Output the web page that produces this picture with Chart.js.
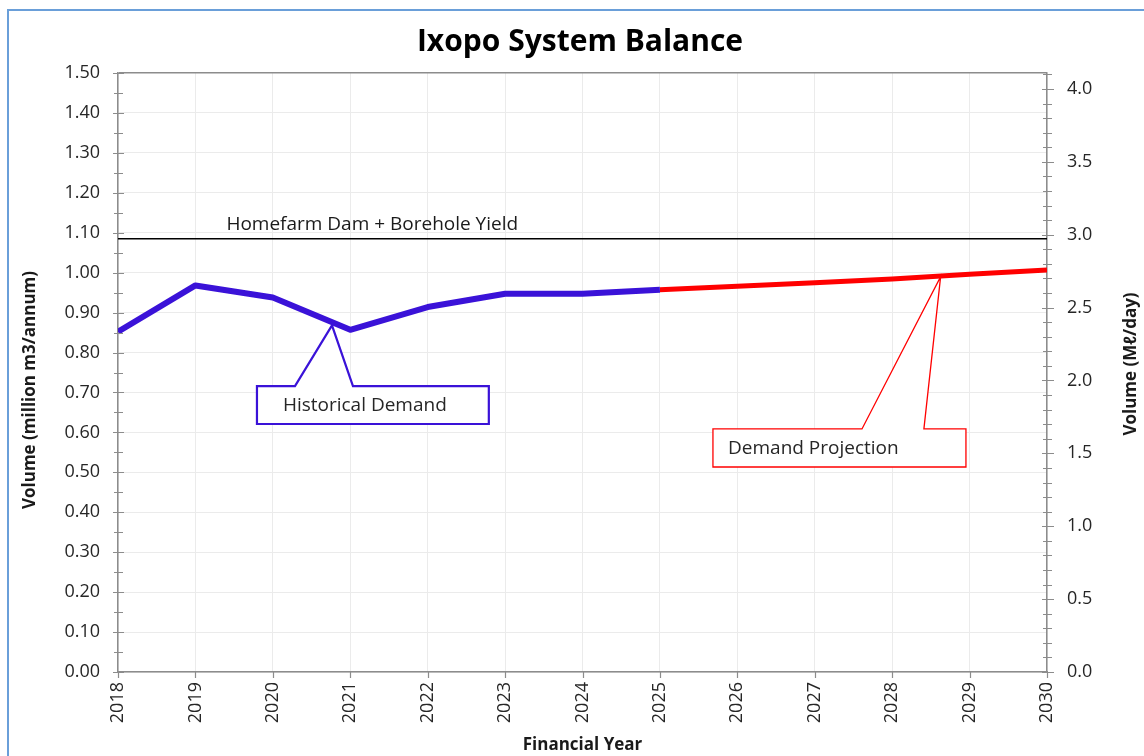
<!DOCTYPE html>
<html>
<head>
<meta charset="utf-8">
<script src="https://cdn.jsdelivr.net/npm/chart.js@4.4.1/dist/chart.umd.min.js"></script>
<style>
html,body{margin:0;padding:0;background:#fff;}
#wrap{position:relative;width:1144px;height:756px;overflow:hidden;}
#c{position:absolute;left:0;top:0;}
#frame{position:absolute;left:7px;top:9px;width:1300px;height:900px;border-left:2px solid #6A9FD9;border-top:2px solid #6A9FD9;pointer-events:none;}
</style>
</head>
<body>
<div id="wrap"><canvas id="c" width="1144" height="756"></canvas><div id="frame"></div></div>
<script>
// ---- data ----
const historicalYears = [2018, 2019, 2020, 2021, 2022, 2023, 2024, 2025];
const historicalDemand = [0.852, 0.968, 0.938, 0.857, 0.914, 0.947, 0.947, 0.957];
const projectionYears = [2025, 2026, 2027, 2028, 2029, 2030];
const projectedDemand = [0.957, 0.966, 0.975, 0.984, 0.996, 1.007];
const yieldYears = [2018, 2030];
const yieldValues = [1.085, 1.085];
const yieldLabel = 'Homefarm Dam + Borehole Yield';
const historicalLabel = 'Historical Demand';
const projectionLabel = 'Demand Projection';
const chartTitle = 'Ixopo System Balance';
const xTitle = 'Financial Year';
const yLeftTitle = 'Volume (million m3/annum)';
const yRightTitle = 'Volume (M\u2113/day)';
const yearMin = 2018, yearMax = 2030;
const leftMax = 1.5;
const rightMax = leftMax * 1000 / 365; // million m3/annum -> Ml/day

const toXY = (xs, ys) => xs.map((x, i) => ({x: x, y: ys[i]}));

const FONT = "'Open Sans', 'DejaVu Sans', sans-serif";
const AXIS = '#8C8C8C';
const GRID = '#EBEBEB';
const BLUE = '#3A12D8';
const RED = '#FF0000';

Chart.defaults.font.family = FONT;
Chart.defaults.color = '#262626';

const decor = {
  id: 'decor',
  afterDatasetsDraw(chart) {
    const {ctx, chartArea: a, scales: {x, y, y2}} = chart;
    ctx.save();
    // yield label
    ctx.font = "19px " + FONT;
    ctx.fillStyle = '#1A1A1A';
    ctx.textBaseline = 'alphabetic';
    ctx.textAlign = 'left';
    ctx.fillText(yieldLabel, x.getPixelForValue(2019.4), y.getPixelForValue(yieldValues[0]) - 9);

    // callouts
    function callout(box, b1, b2, tip, color, lw, text, textX) {
      const x0 = x.getPixelForValue(box[0]), x1 = x.getPixelForValue(box[1]);
      const y0 = y.getPixelForValue(box[2]), y1 = y.getPixelForValue(box[3]);
      const p1 = x.getPixelForValue(b1), p2 = x.getPixelForValue(b2);
      const tx = x.getPixelForValue(tip[0]), ty = y.getPixelForValue(tip[1]);
      ctx.beginPath();
      ctx.moveTo(x0, y0);
      ctx.lineTo(p1, y0);
      ctx.lineTo(tx, ty);
      ctx.lineTo(p2, y0);
      ctx.lineTo(x1, y0);
      ctx.lineTo(x1, y1);
      ctx.lineTo(x0, y1);
      ctx.closePath();
      ctx.fillStyle = '#FFFFFF';
      ctx.fill();
      ctx.strokeStyle = color;
      ctx.lineWidth = lw;
      ctx.lineJoin = 'miter';
      ctx.stroke();
      ctx.fillStyle = '#262626';
      ctx.font = "19px " + FONT;
      ctx.textBaseline = 'middle';
      ctx.textAlign = 'left';
      ctx.fillText(text, x.getPixelForValue(textX), (y0 + y1) / 2 + 1);
    }
    callout([2019.795, 2022.79, 0.716, 0.621], 2020.286, 2021.035, [2020.764, 0.868], BLUE, 2.2, historicalLabel, 2020.13);
    callout([2025.685, 2028.953, 0.6086, 0.5134], 2027.61, 2028.41, [2028.626, 0.99], RED, 1.3, projectionLabel, 2025.88);

    // tick marks crossing axes
    ctx.strokeStyle = AXIS;
    ctx.lineWidth = 1.2;
    ctx.beginPath();
    for (let i = 0; i <= 30; i++) {
      const v = i * 0.05;
      const py = Math.round(y.getPixelForValue(v)) + 0.5;
      const major = i % 2 === 0;
      ctx.moveTo(a.left - (major ? 5 : 4), py);
      ctx.lineTo(a.left + (major ? 6 : 5), py);
    }
    for (let i = 0; i <= Math.floor(rightMax * 10); i++) {
      const v = i * 0.1;
      const py = Math.round(y2.getPixelForValue(v)) + 0.5;
      const major = i % 5 === 0;
      ctx.moveTo(a.right - (major ? 5 : 4), py);
      ctx.lineTo(a.right + (major ? 7 : 5), py);
    }
    for (let yr = yearMin; yr <= yearMax; yr++) {
      const px = Math.round(x.getPixelForValue(yr)) + 0.5;
      ctx.moveTo(px, a.bottom);
      ctx.lineTo(px, a.bottom + 6);
    }
    ctx.stroke();

    // axis titles (rotated, reading upward)
    ctx.fillStyle = '#1A1A1A';
    ctx.font = "bold 17px " + FONT;
    ctx.textAlign = 'center';
    ctx.textBaseline = 'middle';
    ctx.save();
    ctx.translate(30, 390);
    ctx.rotate(-Math.PI / 2);
    ctx.fillText(yLeftTitle, 0, 0);
    ctx.restore();
    ctx.save();
    ctx.translate(1131, 364);
    ctx.rotate(-Math.PI / 2);
    ctx.fillText(yRightTitle, 0, 0);
    ctx.restore();
    ctx.restore();
  }
};

new Chart(document.getElementById('c'), {
  type: 'line',
  data: {
    datasets: [
      {label: historicalLabel, data: toXY(historicalYears, historicalDemand), borderColor: BLUE, borderWidth: 6, pointRadius: 0, borderJoinStyle: 'round', order: 0, yAxisID: 'y'},
      {label: projectionLabel, data: toXY(projectionYears, projectedDemand), borderColor: RED, borderWidth: 5, pointRadius: 0, borderJoinStyle: 'round', order: 1, yAxisID: 'y'},
      {label: yieldLabel, data: toXY(yieldYears, yieldValues), borderColor: '#000000', borderWidth: 1.5, pointRadius: 0, order: 2, yAxisID: 'y'}
    ]
  },
  options: {
    responsive: false,
    animation: false,
    devicePixelRatio: 1,
    layout: {padding: {left: 16, right: 0, top: 0, bottom: 0}},
    plugins: {
      legend: {display: false},
      tooltip: {enabled: false},
      title: {display: true, text: chartTitle, color: '#000000', font: {size: 30, weight: 'bold', family: FONT}, padding: {top: 24, bottom: 13}}
    },
    scales: {
      x: {
        type: 'linear', position: 'bottom', min: yearMin, max: yearMax,
        ticks: {stepSize: 1, autoSkip: false, maxRotation: 90, minRotation: 90, padding: 10, color: '#262626', font: {size: 18}, callback: v => String(v)},
        grid: {color: GRID, lineWidth: 1, drawTicks: false},
        border: {color: AXIS, width: 1.5},
        title: {display: true, text: xTitle, color: '#1A1A1A', font: {size: 17, weight: 'bold'}, padding: {top: 0, bottom: 1}},
        afterFit: s => { s.height = 84; }
      },
      y: {
        type: 'linear', position: 'left', min: 0, max: leftMax,
        ticks: {stepSize: 0.1, padding: 18, color: '#262626', font: {size: 18}, callback: v => v.toFixed(2)},
        grid: {color: c => (c.tick && Math.abs(c.tick.value - leftMax) < 1e-6) ? AXIS : GRID, lineWidth: c => (c.tick && Math.abs(c.tick.value - leftMax) < 1e-6) ? 1.5 : 1, drawTicks: false},
        border: {color: AXIS, width: 1.5},
        afterFit: s => { s.width = 102; }
      },
      y2: {
        type: 'linear', position: 'right', min: 0, max: rightMax,
        ticks: {stepSize: 0.5, includeBounds: false, padding: 20, color: '#262626', font: {size: 18}, callback: v => v.toFixed(1)},
        grid: {display: false, drawTicks: false},
        border: {color: AXIS, width: 1.5},
        afterFit: s => { s.width = 97; }
      }
    }
  },
  plugins: [decor]
});
</script>
</body>
</html>
